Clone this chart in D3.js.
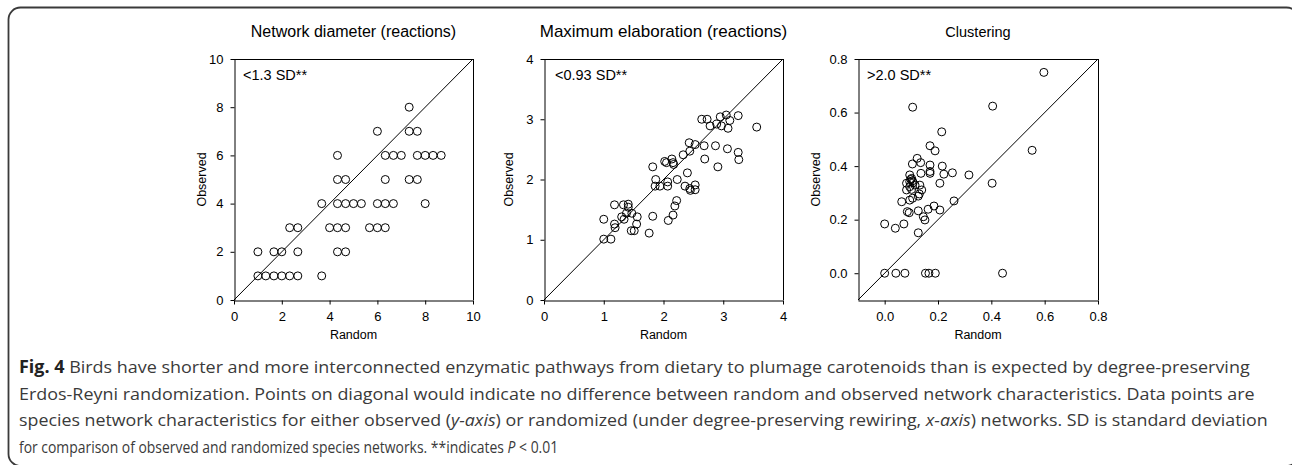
<!DOCTYPE html>
<html>
<head>
<meta charset="utf-8">
<script src="https://cdn.jsdelivr.net/npm/d3@7"></script>
<style>
  html,body{margin:0;padding:0;background:#fff;}
  svg{display:block;font-family:"Liberation Sans",Arial,sans-serif;}
  .axis text{font-size:13px;fill:#000;font-family:"Liberation Sans",Arial,sans-serif;}
  .axis path,.axis line{stroke:#000;stroke-width:1;}
</style>
</head>
<body>
<div id="chart"></div>
<script>
// Network diameter: [random, observed]
const diameterPts = [
  [1,1],[1.33,1],[1.67,1],[2,1],[2.33,1],[2.67,1],[3.67,1],
  [1,2],[1.67,2],[2,2],[2.67,2],[4.33,2],[4.67,2],
  [2.33,3],[2.67,3],[4,3],[4.33,3],[4.67,3],[5.67,3],[6,3],[6.33,3],
  [3.67,4],[4.33,4],[4.67,4],[5,4],[5.33,4],[6,4],[6.33,4],[6.67,4],[8,4],
  [4.33,5],[4.67,5],[6.33,5],[7.33,5],[7.67,5],
  [4.33,6],[6.33,6],[6.67,6],[7,6],[7.67,6],[8,6],[8.33,6],[8.67,6],
  [6,7],[7.33,7],[7.67,7],
  [7.33,8]
];
// Maximum elaboration: [random, observed]
const elaborationPts = [
  [1.00,1.01],[1.12,1.01],[1.00,1.34],[1.18,1.26],[1.19,1.20],[1.18,1.58],[1.33,1.58],
  [1.41,1.59],[1.41,1.54],[1.30,1.38],[1.34,1.34],[1.38,1.44],[1.47,1.44],[1.56,1.38],
  [1.55,1.26],[1.46,1.15],[1.51,1.15],[1.76,1.11],[1.82,1.39],[1.82,2.21],[1.87,2.00],
  [1.86,1.89],[1.94,1.89],[2.07,1.89],[2.07,1.96],[2.08,1.32],[2.16,1.41],[2.19,1.56],
  [2.22,1.65],[2.23,2.00],[2.40,2.11],[2.36,1.89],[2.45,1.82],[2.44,1.85],[2.53,1.91],
  [2.53,1.83],[2.91,2.21],[2.05,2.28],[2.16,2.28],[2.17,2.25],[2.02,2.30],[2.14,2.34],
  [2.69,2.34],[3.26,2.33],[2.33,2.41],[2.44,2.47],[2.43,2.61],[2.53,2.58],[2.68,2.56],
  [2.87,2.56],[3.07,2.51],[3.25,2.45],[2.64,3.00],[2.73,3.00],[2.78,2.89],[2.89,2.92],
  [2.97,2.89],[2.95,3.04],[3.05,3.07],[3.11,2.98],[3.25,3.06],[3.08,2.85],[3.56,2.87]
];
// Clustering: [random, observed]
const clusteringPts = [
  [0.105,0.62],[0.597,0.75],[0.405,0.624],[0.214,0.528],[0.170,0.476],[0.189,0.457],
  [0.553,0.459],[0.122,0.429],[0.104,0.408],[0.135,0.413],[0.170,0.404],[0.170,0.373],
  [0.170,0.38],[0.216,0.40],[0.222,0.37],[0.254,0.375],[0.316,0.367],[0.403,0.336],
  [0.207,0.336],[0.136,0.373],[0.094,0.367],[0.101,0.354],[0.098,0.35],[0.104,0.345],
  [0.094,0.342],[0.107,0.338],[0.082,0.336],[0.114,0.329],[0.094,0.323],[0.101,0.313],
  [0.082,0.311],[0.132,0.329],[0.139,0.311],[0.130,0.296],[0.126,0.288],[0.105,0.280],
  [0.094,0.273],[0.064,0.267],[0.085,0.230],[0.092,0.226],[0.126,0.233],[0.163,0.239],
  [0.145,0.211],[0.151,0.199],[0.185,0.251],[0.207,0.236],[0.260,0.270],[0.000,0.184],
  [0.040,0.168],[0.072,0.184],[0.126,0.151],
  [0.000,0],[0.042,0],[0.076,0],[0.153,0],[0.166,0],[0.190,0],[0.442,0]
];

const titles = ['Network diameter (reactions)','Maximum elaboration (reactions)','Clustering'];
const notes = ['<1.3 SD**','<0.93 SD**','>2.0 SD**'];
const domains = [[0,10],[0,4],[-0.1,0.8]];
const ticks1 = [0,2,4,6,8,10];
const ticks2 = [0,1,2,3,4];
const ticks3 = [0,0.2,0.4,0.6,0.8];
// caption: each line is a list of [text, style] runs
const captionLines = [
  [['Fig. 4','b'],[' Birds have shorter and more interconnected enzymatic pathways from dietary to plumage carotenoids than is expected by degree-preserving','']],
  [['Erdos-Reyni randomization. Points on diagonal would indicate no difference between random and observed network characteristics. Data points are','']],
  [['species network characteristics for either observed (',''],['y-axis','i'],[') or randomized (under degree-preserving rewiring, ',''],['x-axis','i'],[') networks. SD is standard deviation','']],
  [['for comparison of observed and randomized species networks. **indicates ',''],['P','i'],[' < 0.01','']]
];
const captionWidths = [1232,1236,1249,540];

const W=1292,H=465;
const svg=d3.select('#chart').append('svg').attr('width',W).attr('height',H);

// outer frame
svg.append('rect').attr('x',8.5).attr('y',7.5).attr('width',1290).attr('height',458.5).attr('rx',12)
  .attr('fill','none').attr('stroke','#3a3a3a').attr('stroke-width',1.8);

const panels=[
  {pts:diameterPts,dom:domains[0],ticks:ticks1,fmt:d3.format('d'),x0:234,x1:473,title:titles[0],tsize:16,note:notes[0],nx:243,obsX:206},
  {pts:elaborationPts,dom:domains[1],ticks:ticks2,fmt:d3.format('d'),x0:544,x1:783,title:titles[1],tsize:17,note:notes[1],nx:555,obsX:513},
  {pts:clusteringPts,dom:domains[2],ticks:ticks3,fmt:d3.format('.1f'),x0:858,x1:1098,title:titles[2],tsize:14.5,note:notes[2],nx:867,obsX:820}
];
const plotTop=59,plotBot=300;

panels.forEach(p=>{
  const x=d3.scaleLinear().domain(p.dom).range([p.x0,p.x1]);
  const y=d3.scaleLinear().domain(p.dom).range([plotBot,plotTop]);
  const g=svg.append('g');
  // frame top/right
  g.append('line').attr('x1',p.x0).attr('x2',p.x1).attr('y1',plotTop+0.5).attr('y2',plotTop+0.5).attr('stroke','#000');
  g.append('line').attr('x1',p.x1+0.5).attr('x2',p.x1+0.5).attr('y1',plotTop).attr('y2',plotBot).attr('stroke','#000');
  g.append('g').attr('class','axis').attr('transform',`translate(0,${plotBot+0.5})`)
    .call(d3.axisBottom(x).tickValues(p.ticks).tickFormat(p.fmt).tickSize(4).tickSizeOuter(0).tickPadding(7));
  g.append('g').attr('class','axis').attr('transform',`translate(${p.x0+0.5},0)`)
    .call(d3.axisLeft(y).tickValues(p.ticks).tickFormat(p.fmt).tickSize(4).tickSizeOuter(0).tickPadding(7));
  // diagonal
  g.append('line').attr('x1',x(p.dom[0])).attr('y1',y(p.dom[0])).attr('x2',x(p.dom[1])).attr('y2',y(p.dom[1]))
    .attr('stroke','#000').attr('stroke-width',1);
  // points
  g.selectAll('circle').data(p.pts).join('circle')
    .attr('cx',d=>x(d[0])).attr('cy',d=>y(d[1])).attr('r',4)
    .attr('fill','none').attr('stroke','#000').attr('stroke-width',1);
  // texts
  g.append('text').attr('x',(p.x0+p.x1)/2).attr('y',37).attr('text-anchor','middle')
    .attr('font-size',p.tsize).attr('fill','#000').text(p.title);
  g.append('text').attr('x',p.nx).attr('y',80).attr('font-size',14.5).attr('fill','#000').text(p.note);
  g.append('text').attr('x',(p.x0+p.x1)/2).attr('y',339).attr('text-anchor','middle')
    .attr('font-size',12.5).attr('fill','#000').text('Random');
  g.append('text').attr('transform',`translate(${p.obsX},${(plotTop+plotBot)/2}) rotate(-90)`).attr('text-anchor','middle')
    .attr('font-size',12.5).attr('fill','#000').text('Observed');
});

// caption, each line squeezed horizontally to the measured width
const cap=svg.append('g').attr('font-family','"Open Sans","Noto Sans",sans-serif')
  .attr('font-size',17).attr('fill','#3a3a3a');
captionLines.forEach((runs,i)=>{
  const t=cap.append('text').attr('x',0).attr('y',0);
  runs.forEach(([s,st])=>{
    const sp=t.append('tspan').text(s);
    if(st==='b') sp.attr('font-weight','bold').attr('fill','#222');
    if(st==='i') sp.attr('font-style','italic');
  });
  const nat=t.node().getComputedTextLength();
  t.attr('transform',`translate(19,${373+i*26.5}) scale(${captionWidths[i]/nat},1)`);
});
</script>
</body>
</html>
